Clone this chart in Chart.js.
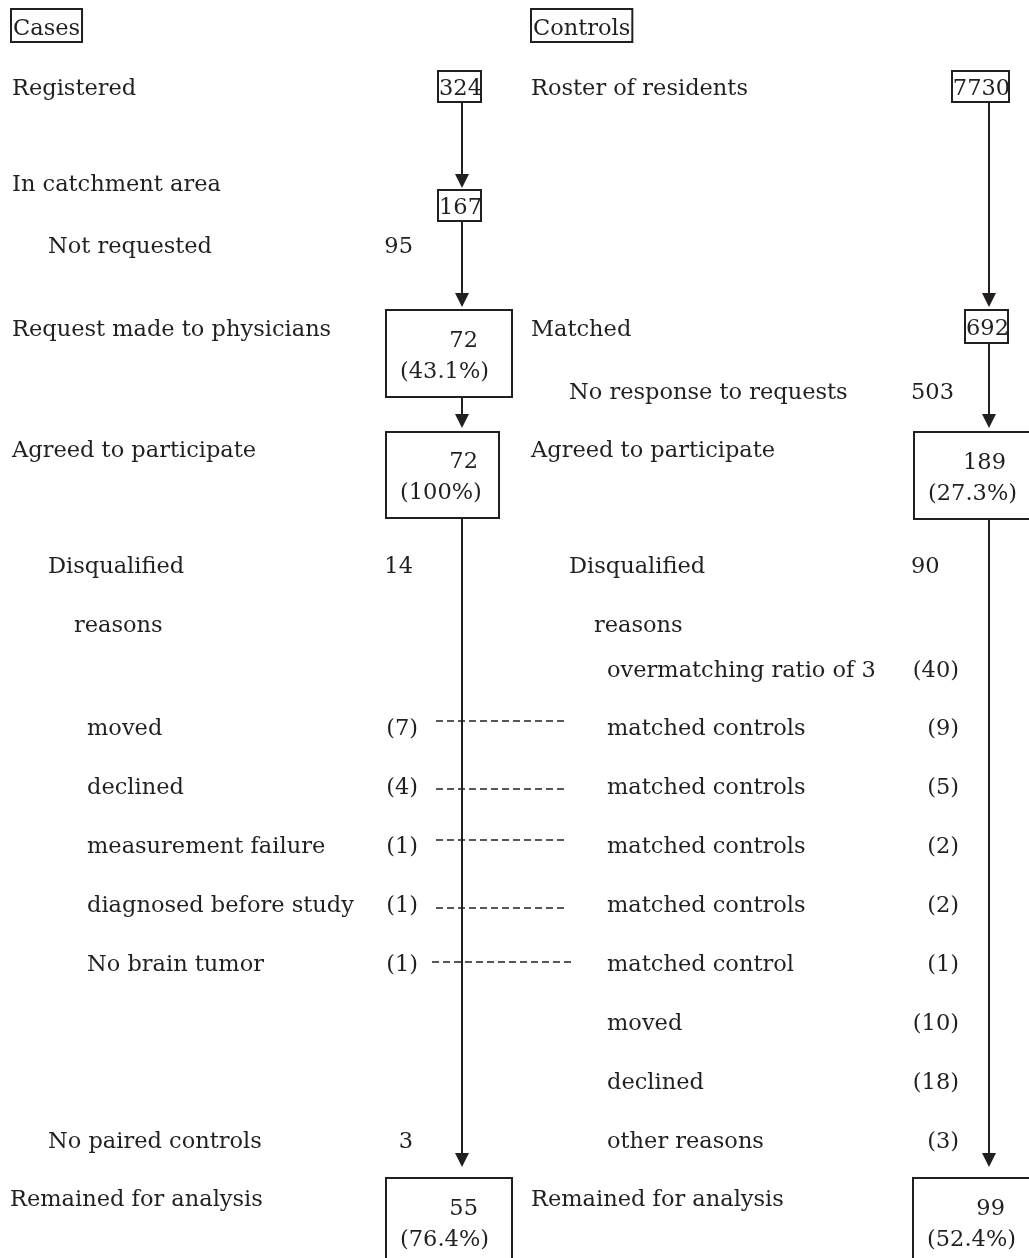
<!DOCTYPE html>
<html>
<head>
<meta charset="utf-8">
<title>Cases and controls flow</title>
<script src="https://cdn.jsdelivr.net/npm/chart.js@4/dist/chart.umd.min.js"></script>
<style>
  html, body { margin: 0; padding: 0; background: #fff; }
  #wrap { width: 1029px; height: 1258px; }
</style>
</head>
<body>
<div id="wrap"><canvas id="chart" width="1029" height="1258"></canvas></div>
<script>
// --- data ---
const caseStages = ['Registered', 'In catchment area', 'Request made to physicians', 'Agreed to participate', 'Remained for analysis'];
const caseCounts = [324, 167, 72, 72, 55];
const casePct = [null, null, 43.1, 100, 76.4];
const caseDrops = ['Not requested', 'Disqualified', 'No paired controls'];
const caseDropCounts = [95, 14, 3];
const caseReasons = ['moved', 'declined', 'measurement failure', 'diagnosed before study', 'No brain tumor'];
const caseReasonCounts = [7, 4, 1, 1, 1];

const ctrlStages = ['Roster of residents', 'Matched', 'Agreed to participate', 'Remained for analysis'];
const ctrlCounts = [7730, 692, 189, 99];
const ctrlPct = [null, null, 27.3, 52.4];
const ctrlDrops = ['No response to requests', 'Disqualified'];
const ctrlDropCounts = [503, 90];
const ctrlReasons = ['overmatching ratio of 3', 'matched controls', 'matched controls', 'matched controls',
  'matched controls', 'matched control', 'moved', 'declined', 'other reasons'];
const ctrlReasonCounts = [40, 9, 5, 2, 2, 1, 10, 18, 3];

// --- layout (page units, same as pixels) ---
const INK = '#231f20';
const FONT = '22.5px "DejaVu Serif", "Liberation Serif", serif';
const caseLineX = 462, ctrlLineX = 989;
const caseBoxes = [
  { x0: 438, x1: 481, y0: 71, y1: 102, base: 95 },
  { x0: 438, x1: 481, y0: 190, y1: 221, base: 214 },
  { x0: 386, x1: 512, y0: 310, y1: 397, base: 347 },
  { x0: 386, x1: 499, y0: 432, y1: 518, base: 468 },
  { x0: 386, x1: 512, y0: 1178, y1: 1275, base: 1215 }
];
const ctrlBoxes = [
  { x0: 952, x1: 1009, y0: 71, y1: 102, base: 95 },
  { x0: 965, x1: 1008, y0: 310, y1: 343, base: 335 },
  { x0: 914, x1: 1045, y0: 432, y1: 519, base: 469 },
  { x0: 913, x1: 1045, y0: 1178, y1: 1275, base: 1215 }
];
const caseTipGap = [2, 3, 4, 11];
const ctrlTipGap = [3, 4, 11];
const caseStageY = [95, 191, 336, 457, 1206];
const ctrlStageY = [95, 336, 457, 1206];
const caseDropY = [253, 573, 1148];
const ctrlDropY = [399, 573];
const caseReasonY = [735, 794, 853, 912, 971];
const ctrlReasonY = [677, 735, 794, 853, 912, 971, 1030, 1089, 1148];
const dashY = [721, 789, 840, 908, 962];

const fmtPct = p => '(' + (p === 100 ? '100' : p.toFixed(1)) + '%)';

// connectors between consecutive boxes, plus dashed pairing lines
const datasets = [];
function seg(x0, y0, x1, y1, dash, width) {
  datasets.push({
    data: [{ x: x0, y: y0 }, { x: x1, y: y1 }],
    showLine: true, borderColor: INK, borderWidth: width || 2,
    borderDash: dash || [], pointRadius: 0, pointHoverRadius: 0
  });
}
const tips = [];
caseBoxes.slice(1).forEach((b, i) => {
  const tip = b.y0 - caseTipGap[i];
  seg(caseLineX, caseBoxes[i].y1, caseLineX, tip - 12);
  tips.push({ x: caseLineX, y: tip });
});
ctrlBoxes.slice(1).forEach((b, i) => {
  const tip = b.y0 - ctrlTipGap[i];
  seg(ctrlLineX, ctrlBoxes[i].y1, ctrlLineX, tip - 12);
  tips.push({ x: ctrlLineX, y: tip });
});
caseReasonCounts.forEach((c, i) => {
  const last = i === caseReasonCounts.length - 1;
  seg(last ? 432 : 436, dashY[i], last ? 572 : 568, dashY[i], [7, 4], 1.5);
});

const flowPlugin = {
  id: 'flow',
  afterDatasetsDraw(chart) {
    const ctx = chart.ctx;
    const px = v => chart.scales.x.getPixelForValue(v);
    const py = v => chart.scales.y.getPixelForValue(v);
    ctx.save();
    ctx.fillStyle = INK;
    ctx.strokeStyle = INK;
    ctx.font = FONT;
    ctx.textBaseline = 'alphabetic';

    const text = (s, x, y, align) => {
      ctx.textAlign = align || 'left';
      ctx.fillText(s, px(x), py(y));
    };
    const rect = (x0, y0, x1, y1) => {
      ctx.lineWidth = 2;
      ctx.strokeRect(px(x0), py(y0), px(x1) - px(x0), py(y1) - py(y0));
    };

    // arrow heads
    tips.forEach(t => {
      ctx.beginPath();
      ctx.moveTo(px(t.x), py(t.y));
      ctx.lineTo(px(t.x - 7), py(t.y - 14));
      ctx.lineTo(px(t.x + 7), py(t.y - 14));
      ctx.closePath();
      ctx.fill();
    });

    // column headers
    [['Cases', 13], ['Controls', 533]].forEach(([h, x]) => {
      text(h, x, 35);
      const w = ctx.measureText(h).width;
      rect(x - 2, 9, x + w + 2, 42);
    });

    // count boxes
    const drawBoxes = (boxes, counts, pct) => {
      boxes.forEach((b, i) => {
        rect(b.x0, b.y0, b.x1, b.y1);
        if (pct[i] == null) {
          text(String(counts[i]), (b.x0 + b.x1) / 2 + 1, b.base, 'center');
        } else {
          text(String(counts[i]), b.x0 + 92, b.base, 'right');
          text(fmtPct(pct[i]), b.x0 + 14, b.base + 31, 'left');
        }
      });
    };
    drawBoxes(caseBoxes, caseCounts, casePct);
    drawBoxes(ctrlBoxes, ctrlCounts, ctrlPct);

    // stage labels
    caseStages.forEach((s, i) => text(s, i === 4 ? 10 : 12, caseStageY[i]));
    ctrlStages.forEach((s, i) => text(s, 531, ctrlStageY[i]));

    // drop-outs
    caseDrops.forEach((s, i) => {
      text(s, 48, caseDropY[i]);
      text(String(caseDropCounts[i]), 413, caseDropY[i], 'right');
    });
    ctrlDrops.forEach((s, i) => {
      text(s, 569, ctrlDropY[i]);
      text(String(ctrlDropCounts[i]), 911, ctrlDropY[i], 'left');
    });

    // reasons
    text('reasons', 74, 632);
    text('reasons', 594, 632);
    caseReasons.forEach((s, i) => {
      text(s, 87, caseReasonY[i]);
      text('(' + caseReasonCounts[i] + ')', 418, caseReasonY[i], 'right');
    });
    ctrlReasons.forEach((s, i) => {
      text(s, 607, ctrlReasonY[i]);
      text('(' + ctrlReasonCounts[i] + ')', 959, ctrlReasonY[i], 'right');
    });
    ctx.restore();
  }
};

new Chart(document.getElementById('chart'), {
  type: 'scatter',
  data: { datasets },
  options: {
    responsive: false,
    animation: false,
    events: [],
    layout: { padding: 0 },
    plugins: { legend: { display: false }, tooltip: { enabled: false } },
    scales: {
      x: { type: 'linear', min: 0, max: 1029, display: false },
      y: { type: 'linear', min: 0, max: 1258, reverse: true, display: false }
    }
  },
  plugins: [flowPlugin]
});
</script>
</body>
</html>
